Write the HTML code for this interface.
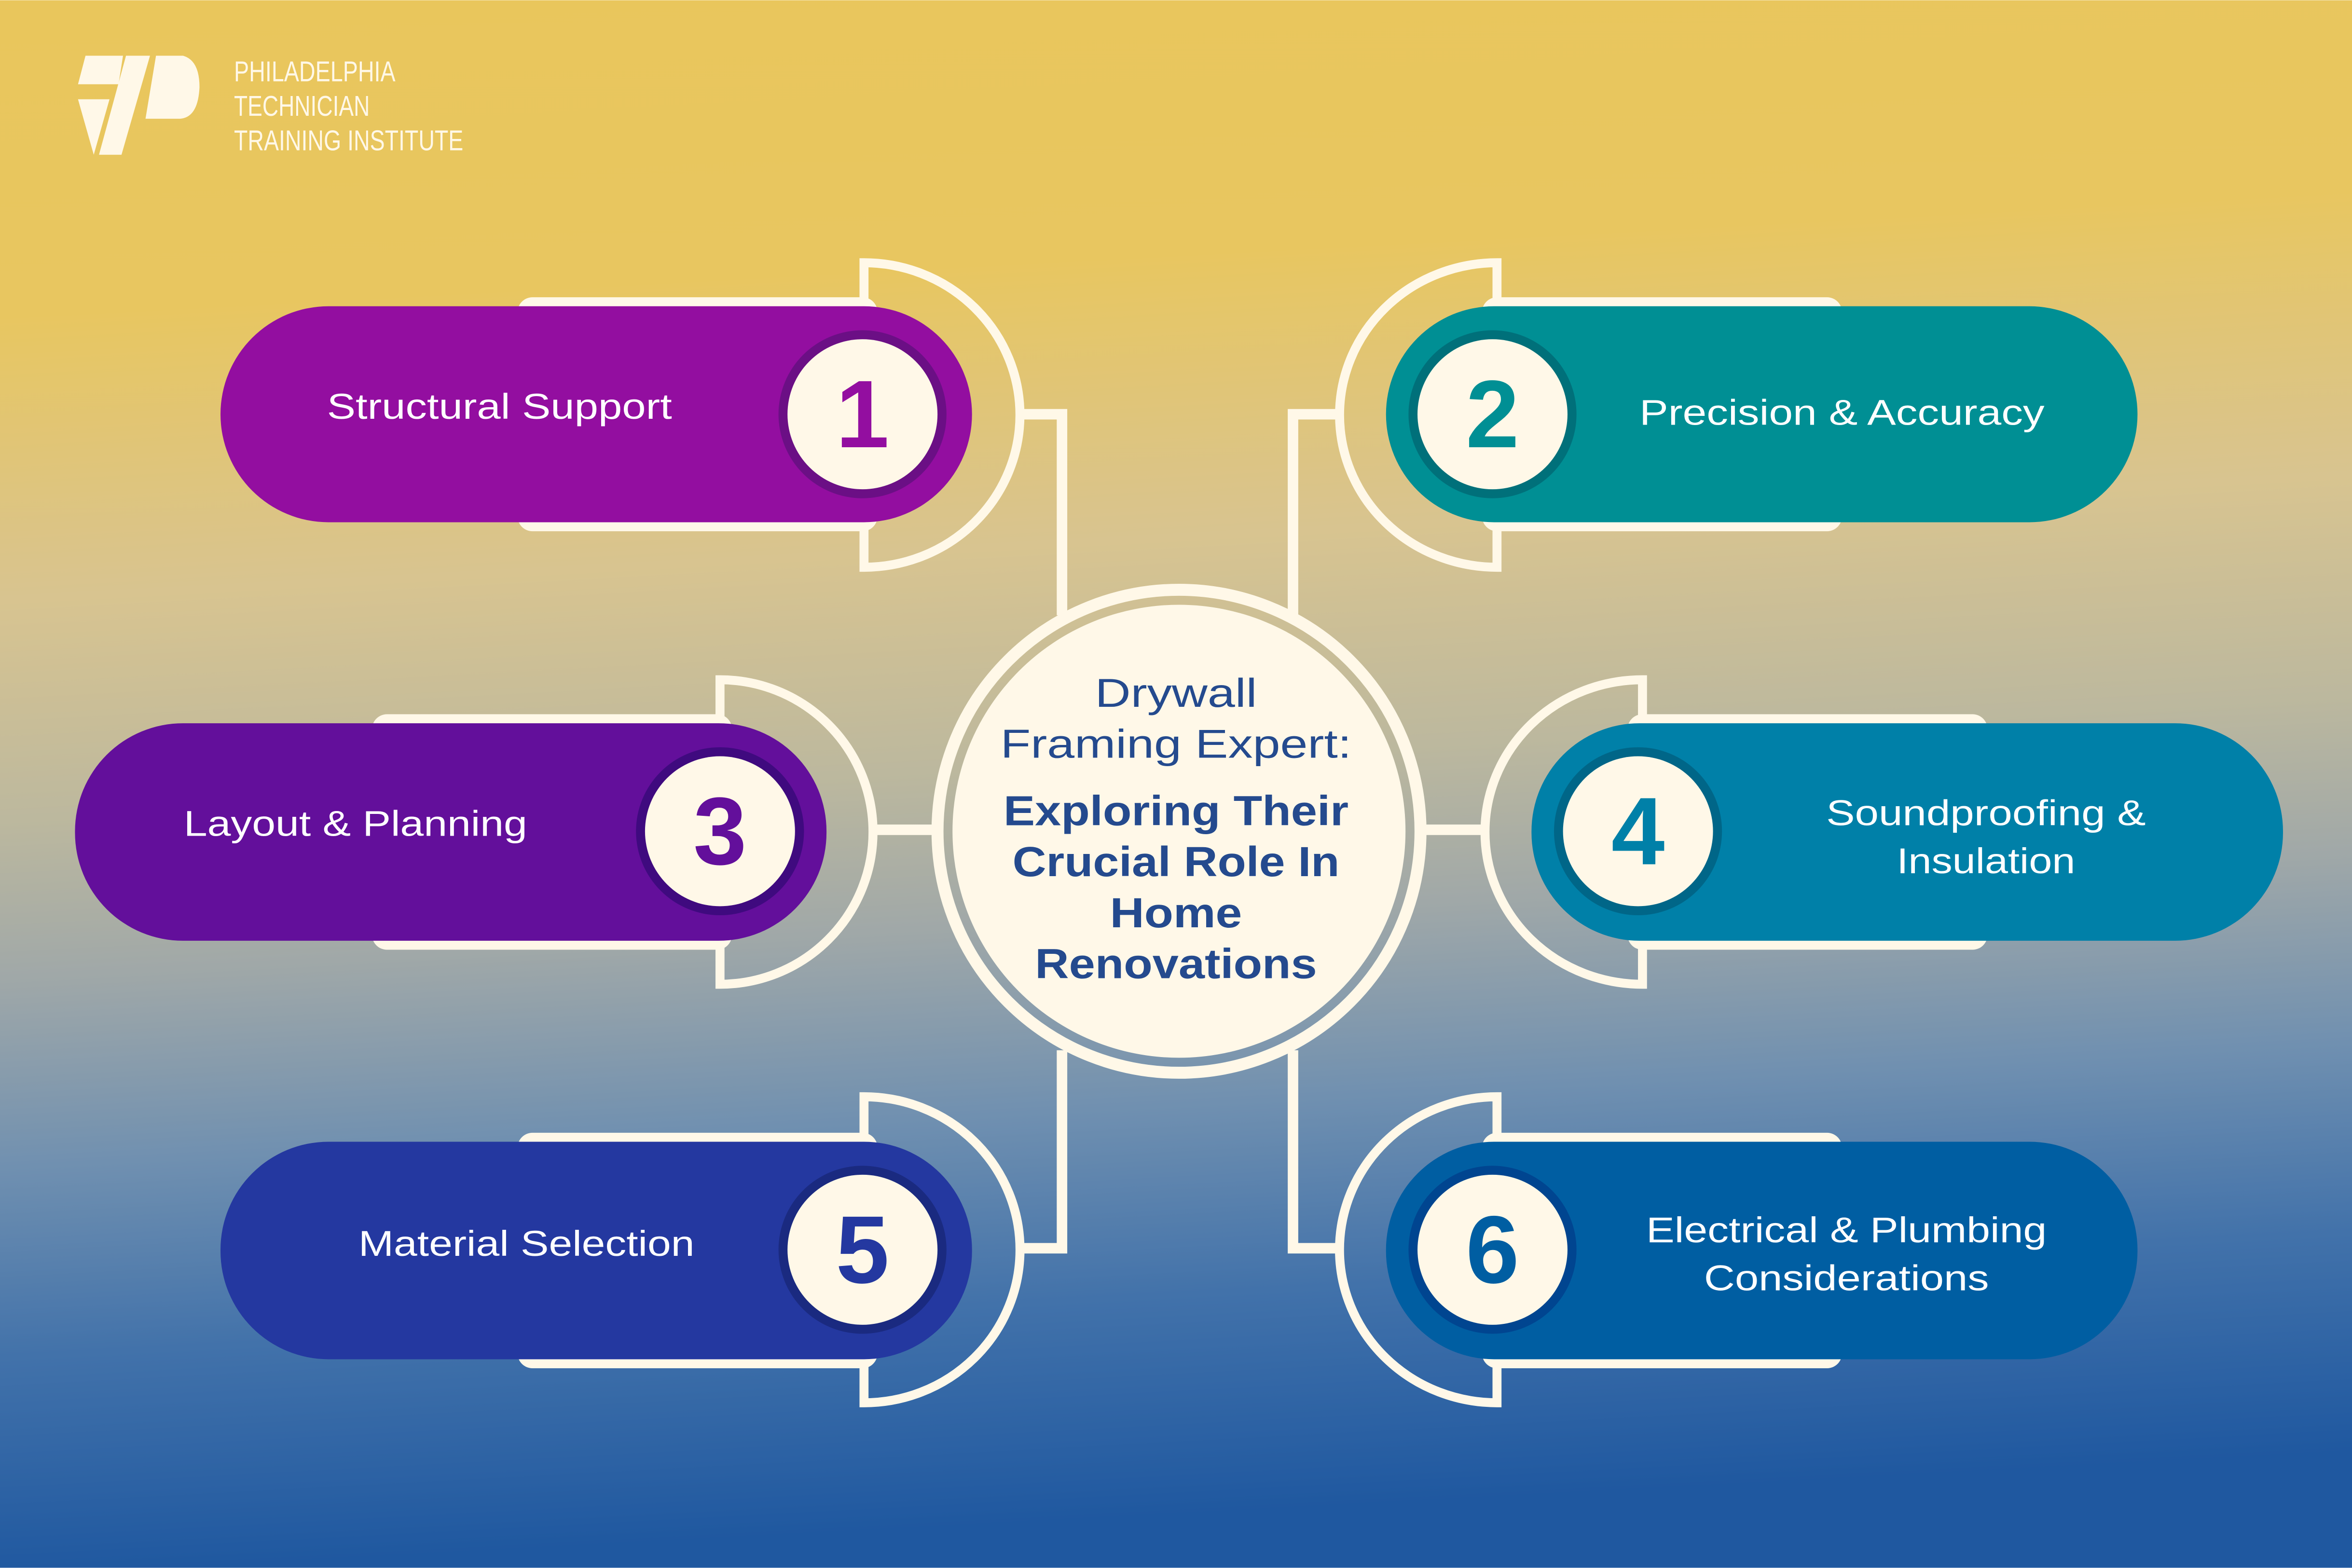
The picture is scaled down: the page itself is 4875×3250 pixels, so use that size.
<!DOCTYPE html>
<html><head><meta charset="utf-8"><style>
html,body{margin:0;padding:0;width:4875px;height:3250px;overflow:hidden}
svg{display:block}
</style></head><body>
<svg width="4875" height="3250" viewBox="0 0 1568 1045" xmlns="http://www.w3.org/2000/svg" font-family="Liberation Sans, sans-serif">
<defs>
<linearGradient id="bg" x1="0" y1="0" x2="0.08" y2="1">
<stop offset="0" stop-color="#E9C65C"/>
<stop offset="0.2" stop-color="#E8C660"/>
<stop offset="0.38" stop-color="#D8C490"/>
<stop offset="0.52" stop-color="#BCB89E"/>
<stop offset="0.62" stop-color="#A0A8A8"/>
<stop offset="0.74" stop-color="#7090B0"/>
<stop offset="0.86" stop-color="#4272AA"/>
<stop offset="1" stop-color="#1F58A0"/>
</linearGradient>
</defs>
<rect width="1568" height="1045" fill="url(#bg)"/>

<!-- logo -->
<g fill="#FFF8E8">
<path d="M57 37 L82 37 L79 56 L52 56 Z"/>
<path d="M52 66 L73 66 L62.5 103 Z"/>
<path d="M84 37 L100 37 L81 103 L66 103 Z"/>
<path d="M104 37 L122 37 Q133 40 133 58 Q132 79 119 79 L97 79 Z"/>
</g>
<g fill="#FFF8E8" font-size="19" transform="translate(156,0) scale(0.78,1)">
<text x="0" y="54" textLength="138" lengthAdjust="spacingAndGlyphs">PHILADELPHIA</text>
<text x="0" y="77" textLength="116" lengthAdjust="spacingAndGlyphs">TECHNICIAN</text>
<text x="0" y="100" textLength="196" lengthAdjust="spacingAndGlyphs">TRAINING INSTITUTE</text>
</g>

<!-- connectors -->
<g fill="none" stroke="#FFF8E8" stroke-width="7">
<path d="M680 276 H708 V410"/>
<path d="M680 832 H708 V700"/>
<path d="M893 276 H862 V410"/>
<path d="M893 832 H862 V700"/>
<path d="M582 553 H622"/>
<path d="M950 553 H990"/>
</g>

<!-- center circle -->
<circle cx="786" cy="554" r="161" fill="none" stroke="#FFF8E8" stroke-width="8"/>
<circle cx="786" cy="554" r="151" fill="#FFF8E8"/>
<g fill="#244A8E" text-anchor="middle">
<text x="784" y="471" font-size="27" textLength="108" lengthAdjust="spacingAndGlyphs">Drywall</text>
<text x="784" y="505" font-size="27" textLength="234" lengthAdjust="spacingAndGlyphs">Framing Expert:</text>
<g font-weight="bold" font-size="28">
<text x="784" y="550" textLength="230" lengthAdjust="spacingAndGlyphs">Exploring Their</text>
<text x="784" y="584" textLength="218" lengthAdjust="spacingAndGlyphs">Crucial Role In</text>
<text x="784" y="618" textLength="88" lengthAdjust="spacingAndGlyphs">Home</text>
<text x="784" y="652" textLength="188" lengthAdjust="spacingAndGlyphs">Renovations</text>
</g>
</g>

<!-- Node 1 -->
<g>
<rect x="345" y="198" width="240" height="156" rx="10" fill="#FFF8E8"/>
<path d="M576 204 V175 A104 101.5 0 0 1 576 378 V350" fill="none" stroke="#FFF8E8" stroke-width="6"/>
<rect x="147" y="204" width="501" height="144" rx="72" fill="#930EA0"/>
<circle cx="575" cy="276" r="56" fill="#6B0F85"/>
<circle cx="575" cy="276" r="50" fill="#FFF8E8"/>
<text x="575" y="298" font-size="64" font-weight="bold" fill="#930EA0" text-anchor="middle">1</text>
<text x="333" y="279" font-size="24" fill="#fff" text-anchor="middle" textLength="230" lengthAdjust="spacingAndGlyphs">Structural Support</text>
</g>
<!-- Node 3 -->
<g>
<rect x="248" y="476" width="240" height="157" rx="10" fill="#FFF8E8"/>
<path d="M480 482 V453 A102 101.5 0 0 1 480 656 V628" fill="none" stroke="#FFF8E8" stroke-width="6"/>
<rect x="50" y="482" width="501" height="145" rx="72" fill="#630F9B"/>
<circle cx="480" cy="554" r="56" fill="#3F0A7F"/>
<circle cx="480" cy="554" r="50" fill="#FFF8E8"/>
<text x="480" y="576" font-size="64" font-weight="bold" fill="#630F9B" text-anchor="middle">3</text>
<text x="237" y="557" font-size="24" fill="#fff" text-anchor="middle" textLength="229" lengthAdjust="spacingAndGlyphs">Layout &amp; Planning</text>
</g>
<!-- Node 5 -->
<g>
<rect x="345" y="755" width="240" height="157" rx="10" fill="#FFF8E8"/>
<path d="M576 761 V731 A104 102 0 0 1 576 935 V907" fill="none" stroke="#FFF8E8" stroke-width="6"/>
<rect x="147" y="761" width="501" height="145" rx="72" fill="#2438A0"/>
<circle cx="575" cy="833" r="56" fill="#1A2A80"/>
<circle cx="575" cy="833" r="50" fill="#FFF8E8"/>
<text x="575" y="855" font-size="64" font-weight="bold" fill="#2438A0" text-anchor="middle">5</text>
<text x="351" y="837" font-size="24" fill="#fff" text-anchor="middle" textLength="224" lengthAdjust="spacingAndGlyphs">Material Selection</text>
</g>

<!-- Node 2 -->
<g>
<rect x="988" y="198" width="240" height="156" rx="10" fill="#FFF8E8"/>
<path d="M998 204 V175 A105 101.5 0 0 0 998 378 V350" fill="none" stroke="#FFF8E8" stroke-width="6"/>
<rect x="924" y="204" width="501" height="144" rx="72" fill="#008F94"/>
<circle cx="995" cy="276" r="56" fill="#00707A"/>
<circle cx="995" cy="276" r="50" fill="#FFF8E8"/>
<text x="995" y="298" font-size="64" font-weight="bold" fill="#008F94" text-anchor="middle">2</text>
<text x="1228" y="283" font-size="24" fill="#fff" text-anchor="middle" textLength="270" lengthAdjust="spacingAndGlyphs">Precision &amp; Accuracy</text>
</g>
<!-- Node 4 -->
<g>
<rect x="1085" y="476" width="240" height="157" rx="10" fill="#FFF8E8"/>
<path d="M1095 482 V453 A105 101.5 0 0 0 1095 656 V628" fill="none" stroke="#FFF8E8" stroke-width="6"/>
<rect x="1021" y="482" width="501" height="145" rx="72" fill="#0080A8"/>
<circle cx="1092" cy="554" r="56" fill="#006688"/>
<circle cx="1092" cy="554" r="50" fill="#FFF8E8"/>
<text x="1092" y="576" font-size="64" font-weight="bold" fill="#0080A8" text-anchor="middle">4</text>
<text x="1324" y="550" font-size="24" fill="#fff" text-anchor="middle" textLength="213" lengthAdjust="spacingAndGlyphs">Soundproofing &amp;</text>
<text x="1324" y="582" font-size="24" fill="#fff" text-anchor="middle" textLength="119" lengthAdjust="spacingAndGlyphs">Insulation</text>
</g>
<!-- Node 6 -->
<g>
<rect x="988" y="755" width="240" height="157" rx="10" fill="#FFF8E8"/>
<path d="M998 761 V731 A105 102 0 0 0 998 935 V907" fill="none" stroke="#FFF8E8" stroke-width="6"/>
<rect x="924" y="761" width="501" height="145" rx="72" fill="#005EA2"/>
<circle cx="995" cy="833" r="56" fill="#004590"/>
<circle cx="995" cy="833" r="50" fill="#FFF8E8"/>
<text x="995" y="855" font-size="64" font-weight="bold" fill="#005EA2" text-anchor="middle">6</text>
<text x="1231" y="828" font-size="24" fill="#fff" text-anchor="middle" textLength="267" lengthAdjust="spacingAndGlyphs">Electrical &amp; Plumbing</text>
<text x="1231" y="860" font-size="24" fill="#fff" text-anchor="middle" textLength="190" lengthAdjust="spacingAndGlyphs">Considerations</text>
</g>
</svg>
</body></html>
